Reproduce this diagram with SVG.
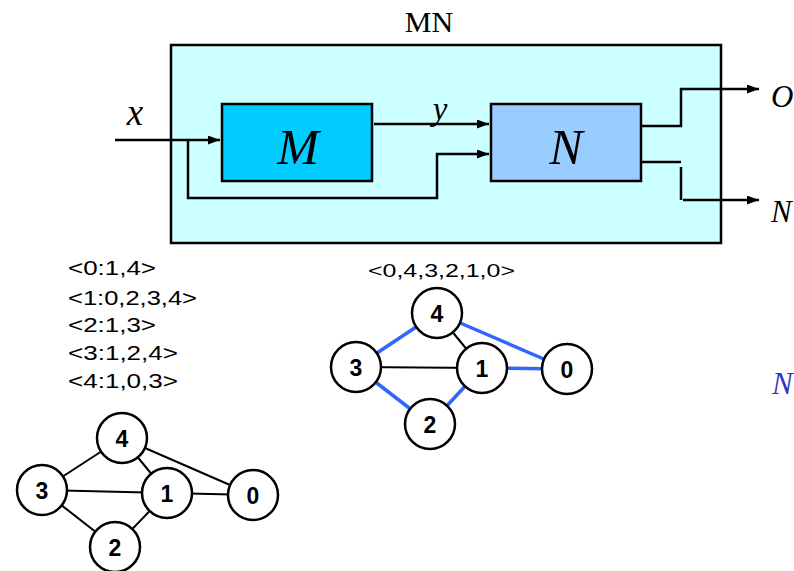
<svg xmlns="http://www.w3.org/2000/svg" width="794" height="571" viewBox="0 0 794 571">
<defs>
<marker id="arr" markerUnits="userSpaceOnUse" markerWidth="13" markerHeight="10" refX="12" refY="4.5" orient="auto">
<path d="M0,0 L12,4.5 L0,9 z" fill="#000"/>
</marker>
</defs>
<style>
.box{stroke:#000;stroke-width:2.5}
.wire{fill:none;stroke:#000;stroke-width:2.5}
.tm{font-family:"Liberation Serif",serif;font-style:italic;fill:#000}
.lst{font-family:"Liberation Sans",Arial,sans-serif;font-size:20px;fill:#000}
.nd circle{fill:#fff;stroke:#000;stroke-width:2.5}
.nd text{font-family:"Liberation Sans",Arial,sans-serif;font-size:23px;font-weight:bold;text-anchor:middle;fill:#000}
.e{stroke:#000;stroke-width:2}
.b{stroke:#3366FF;stroke-width:3.5}
</style>
<text x="429" y="32" font-family="Liberation Serif,serif" font-size="30" text-anchor="middle">MN</text>
<g id="MN"><rect class="box" x="171" y="45" width="550" height="198" fill="#CCFFFF"/></g>
<g id="M"><rect class="box" x="222" y="104" width="150" height="77" fill="#00CCFF"/>
<text class="tm" x="298" y="164" font-size="50" text-anchor="middle">M</text></g>
<g id="N"><rect class="box" x="491" y="104" width="150" height="77" fill="#99CCFF"/>
<text class="tm" x="566" y="164" font-size="50" text-anchor="middle">N</text></g>
<g id="connectors">
<path class="wire" d="M115,140 H220" marker-end="url(#arr)"/>
<path class="wire" d="M188,140 V198 H437 V154 H489" marker-end="url(#arr)"/>
<path class="wire" d="M374,124 H489" marker-end="url(#arr)"/>
<path class="wire" d="M641,126 H681 V89 H759" marker-end="url(#arr)"/>
<path class="wire" d="M641,162 H681"/>
<path class="wire" d="M681,167 V200"/>
<path class="wire" d="M683,200 H759" marker-end="url(#arr)"/>
</g>
<text class="tm" x="135" y="125" font-size="37" text-anchor="middle">x</text>
<text class="tm" x="440" y="120" font-size="33" text-anchor="middle">y</text>
<text class="tm" x="771" y="107" font-size="31">O</text>
<text class="tm" x="771" y="222" font-size="31">N</text>
<text class="tm" x="772" y="394" font-size="31" style="fill:#3333CC">N</text>
<g id="list">
<text class="lst" x="68" y="275" textLength="88" lengthAdjust="spacingAndGlyphs">&lt;0:1,4&gt;</text>
<text class="lst" x="68" y="305" textLength="129" lengthAdjust="spacingAndGlyphs">&lt;1:0,2,3,4&gt;</text>
<text class="lst" x="68" y="332" textLength="88" lengthAdjust="spacingAndGlyphs">&lt;2:1,3&gt;</text>
<text class="lst" x="68" y="360" textLength="110" lengthAdjust="spacingAndGlyphs">&lt;3:1,2,4&gt;</text>
<text class="lst" x="68" y="388" textLength="110" lengthAdjust="spacingAndGlyphs">&lt;4:1,0,3&gt;</text>
</g>
<text class="lst" x="368" y="277" style="font-size:19px" textLength="147" lengthAdjust="spacingAndGlyphs">&lt;0,4,3,2,1,0&gt;</text>
<g id="left-edges">
<line class="e" x1="122" y1="438" x2="42" y2="490"/>
<line class="e" x1="122" y1="438" x2="167" y2="493"/>
<line class="e" x1="122" y1="438" x2="253" y2="495"/>
<line class="e" x1="42" y1="490" x2="167" y2="493"/>
<line class="e" x1="167" y1="493" x2="253" y2="495"/>
<line class="e" x1="42" y1="490" x2="115" y2="547"/>
<line class="e" x1="115" y1="547" x2="167" y2="493"/>
</g>
<g id="L4" class="nd"><circle cx="122" cy="438" r="25"/><text x="122" y="446.5">4</text></g>
<g id="L3" class="nd"><circle cx="42" cy="490" r="25"/><text x="42" y="498.5">3</text></g>
<g id="L1" class="nd"><circle cx="167" cy="493" r="25"/><text x="167" y="501.5">1</text></g>
<g id="L0" class="nd"><circle cx="253" cy="495" r="25"/><text x="253" y="503.5">0</text></g>
<g id="L2" class="nd"><circle cx="115" cy="547" r="25"/><text x="115" y="555.5">2</text></g>
<g id="right-edges">
<line class="e" x1="437" y1="313" x2="482" y2="368"/>
<line class="e" x1="356" y1="367" x2="482" y2="368"/>
<line class="b" x1="437" y1="313" x2="356" y2="367"/>
<line class="b" x1="437" y1="313" x2="567" y2="369"/>
<line class="b" x1="482" y1="368" x2="567" y2="369"/>
<line class="b" x1="356" y1="367" x2="430" y2="424"/>
<line class="b" x1="430" y1="424" x2="482" y2="368"/>
</g>
<g id="R4" class="nd"><circle cx="437" cy="313" r="25"/><text x="437" y="321.5">4</text></g>
<g id="R3" class="nd"><circle cx="356" cy="367" r="25"/><text x="356" y="375.5">3</text></g>
<g id="R1" class="nd"><circle cx="482" cy="368" r="25"/><text x="482" y="376.5">1</text></g>
<g id="R0" class="nd"><circle cx="567" cy="369" r="25"/><text x="567" y="377.5">0</text></g>
<g id="R2" class="nd"><circle cx="430" cy="424" r="25"/><text x="430" y="432.5">2</text></g>
</svg>
